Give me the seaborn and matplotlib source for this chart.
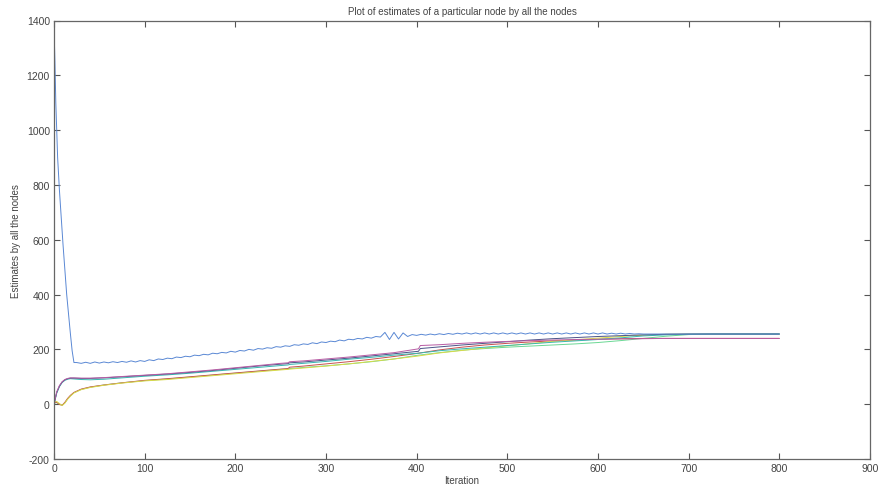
import matplotlib
matplotlib.use("Agg")
import matplotlib.pyplot as plt
import seaborn as sns
import pandas as pd

# ---------------- data ----------------
blue_iter = [0, 1, 2, 3, 4, 6, 8, 10, 12, 14, 16, 18, 20, 22,
             25, 30, 35, 40, 45, 50, 55, 60, 65, 70, 75, 80, 85, 90, 95, 100,
             105, 110, 115, 120, 125, 130, 135, 140, 145, 150, 155, 160, 165, 170, 175, 180, 185, 190, 195, 200,
             205, 210, 215, 220, 225, 230, 235, 240, 245, 250, 255, 260, 265, 270, 275, 280, 285, 290, 295, 300,
             305, 310, 315, 320, 325, 330, 335, 340, 345, 350, 355, 360, 365, 370, 375, 380, 385, 390, 395, 400,
             405, 410, 415, 420, 425, 430, 435, 440, 445, 450, 455, 460, 465, 470, 475, 480, 485, 490, 495, 500,
             505, 510, 515, 520, 525, 530, 535, 540, 545, 550, 555, 560, 565, 570, 575, 580, 585, 590, 595, 600,
             605, 610, 615, 620, 625, 630, 635, 640, 645, 650, 700, 750, 800]
blue_vals = [1380, 1250, 1100, 995, 900, 780, 680, 580, 490, 400, 330, 260, 195, 152,
             152, 149, 153, 149, 154, 150, 154, 151, 155, 152, 156, 153, 158, 154, 159, 156,
             162, 159, 165, 163, 168, 166, 172, 170, 175, 173, 179, 177, 182, 180, 186, 184, 189, 187, 193, 190,
             196, 194, 200, 197, 203, 201, 206, 204, 210, 208, 213, 211, 217, 215, 220, 218, 224, 221, 227, 225,
             230, 228, 234, 231, 237, 235, 240, 238, 244, 241, 247, 245, 262, 236, 262, 238, 260, 247, 254, 251,
             255, 252, 256, 253, 257, 254, 258, 255, 259, 256, 260, 256, 260, 256, 260, 256, 260, 256, 260, 256,
             260, 256, 260, 256, 260, 256, 260, 256, 260, 256, 260, 256, 260, 256, 260, 256, 260, 256, 260, 256,
             260, 256, 259, 256, 259, 256, 258, 256, 257, 256, 256, 256, 256]

grpA_iter = [0, 3, 6, 9, 12, 15, 18, 22, 30, 40, 55, 75, 100, 125, 150, 175, 200, 225, 250,
             258, 260, 275, 300, 325, 350, 375, 402, 404, 425, 450, 475, 500, 525, 550, 575,
             600, 625, 650, 675, 700, 725, 750, 775, 800]
magenta_vals = [0, 45, 68, 82, 90, 94, 96, 96, 95, 95, 97, 101, 106, 111, 118, 125, 133, 141, 149,
                151, 155, 158, 165, 172, 180, 188, 202, 214, 217, 222, 226, 229, 232, 234, 236,
                237, 238, 239, 240, 240, 240, 240, 240, 240]
cyan_vals = [0, 40, 64, 79, 87, 91, 93, 92, 90, 89, 91, 96, 102, 107, 113, 120, 127, 134, 141,
             143, 145, 149, 156, 164, 171, 179, 186, 187, 195, 202, 208, 214, 220, 226, 231,
             236, 242, 249, 253, 255, 256, 256, 256, 256]
navy_vals = [0, 43, 66, 81, 89, 93, 95, 95, 94, 94, 96, 100, 105, 110, 116, 123, 131, 139, 146,
             148, 151, 154, 161, 168, 176, 184, 193, 203, 209, 216, 222, 228, 234, 239, 243,
             247, 250, 253, 255, 256, 256, 256, 256, 256]

grpB_iter = [0, 3, 6, 9, 12, 15, 18, 22, 30, 40, 55, 75, 100, 125, 150, 175, 200, 225, 250,
             258, 260, 275, 300, 325, 350, 375, 400, 425, 450, 475, 500, 525, 550, 575,
             600, 625, 650, 675, 700, 725, 750, 775, 800]
yellow_vals = [8, 10, 2, -5, 4, 18, 29, 41, 53, 61, 69, 77, 85, 90, 97, 104, 111, 118, 125,
               127, 128, 132, 139, 147, 156, 165, 175, 187, 196, 205, 213, 221, 229, 235,
               241, 247, 252, 255, 256, 256, 256, 256, 256]
red_vals = [5, 7, -1, -4, 7, 21, 32, 43, 55, 63, 70, 78, 87, 93, 100, 107, 114, 121, 128,
            130, 135, 139, 147, 155, 164, 174, 185, 198, 208, 216, 222, 227, 231, 234,
            237, 239, 240, 240, 240, 240, 240, 240, 240]
green_vals = [3, 6, 0, -4, 5, 19, 30, 42, 54, 62, 70, 78, 86, 92, 99, 106, 113, 120, 127,
              129, 130, 134, 140, 147, 155, 165, 178, 188, 197, 203, 208, 212, 216, 220,
              225, 232, 240, 248, 254, 256, 256, 256, 256]

series_names = ["green", "red", "yellow", "cyan", "navy", "magenta", "blue"]
series_colors = {"green": "#6ad894", "yellow": "#dada48", "red": "#c85050",
                 "cyan": "#38b8b0", "navy": "#4a5488", "magenta": "#b85ca4",
                 "blue": "#5a88d4"}

title_text = "Plot of estimates of a particular node by all the nodes"
x_label = "Iteration"
y_label = "Estimates by all the nodes"
x_ticks = [0, 100, 200, 300, 400, 500, 600, 700, 800, 900]
y_ticks = [-200, 0, 200, 400, 600, 800, 1000, 1200, 1400]

# ---------------- build table ----------------
rows = []
def add(name, xs, ys):
    for x, y in zip(xs, ys):
        rows.append({"iter": x, "value": y, "node": name})

add("green", grpB_iter, green_vals)
add("red", grpB_iter, red_vals)
add("yellow", grpB_iter, yellow_vals)
add("cyan", grpA_iter, cyan_vals)
add("navy", grpA_iter, navy_vals)
add("magenta", grpA_iter, magenta_vals)
add("blue", blue_iter, blue_vals)
df = pd.DataFrame(rows)

# ---------------- plot ----------------
sns.set_theme(style="white")
plt.rcParams["font.family"] = ["Liberation Sans", "DejaVu Sans"]

fig = plt.figure(figsize=(8.85, 4.85), dpi=100)
ax = fig.add_axes([54 / 885, 25 / 485, (870 - 54) / 885, (460 - 21.5) / 485])

sns.lineplot(data=df, x="iter", y="value", hue="node", hue_order=series_names,
             palette=series_colors, estimator=None, sort=False, linewidth=0.7,
             legend=False, ax=ax)

ax.set_xlim(0, 900)
ax.set_ylim(-200, 1400)
ax.set_xticks(x_ticks)
ax.set_yticks(y_ticks)
ax.set_xticklabels([str(t) for t in x_ticks], fontsize=7.5, color="#444444")
ax.set_yticklabels([str(t) for t in y_ticks], fontsize=7.5, color="#444444")
ax.tick_params(direction="in", length=4, width=0.8, color="#555555",
               top=True, right=True, bottom=True, left=True, pad=3)
for s in ax.spines.values():
    s.set_visible(True)
    s.set_color("#666666")
    s.set_linewidth(0.9)

ax.set_title(title_text, fontsize=7, color="#444444", pad=5)
ax.set_xlabel(x_label, fontsize=7, color="#444444", labelpad=1)
ax.set_ylabel(y_label, fontsize=7, color="#444444", labelpad=4)

fig.savefig("out.png", dpi=100, facecolor="white")
